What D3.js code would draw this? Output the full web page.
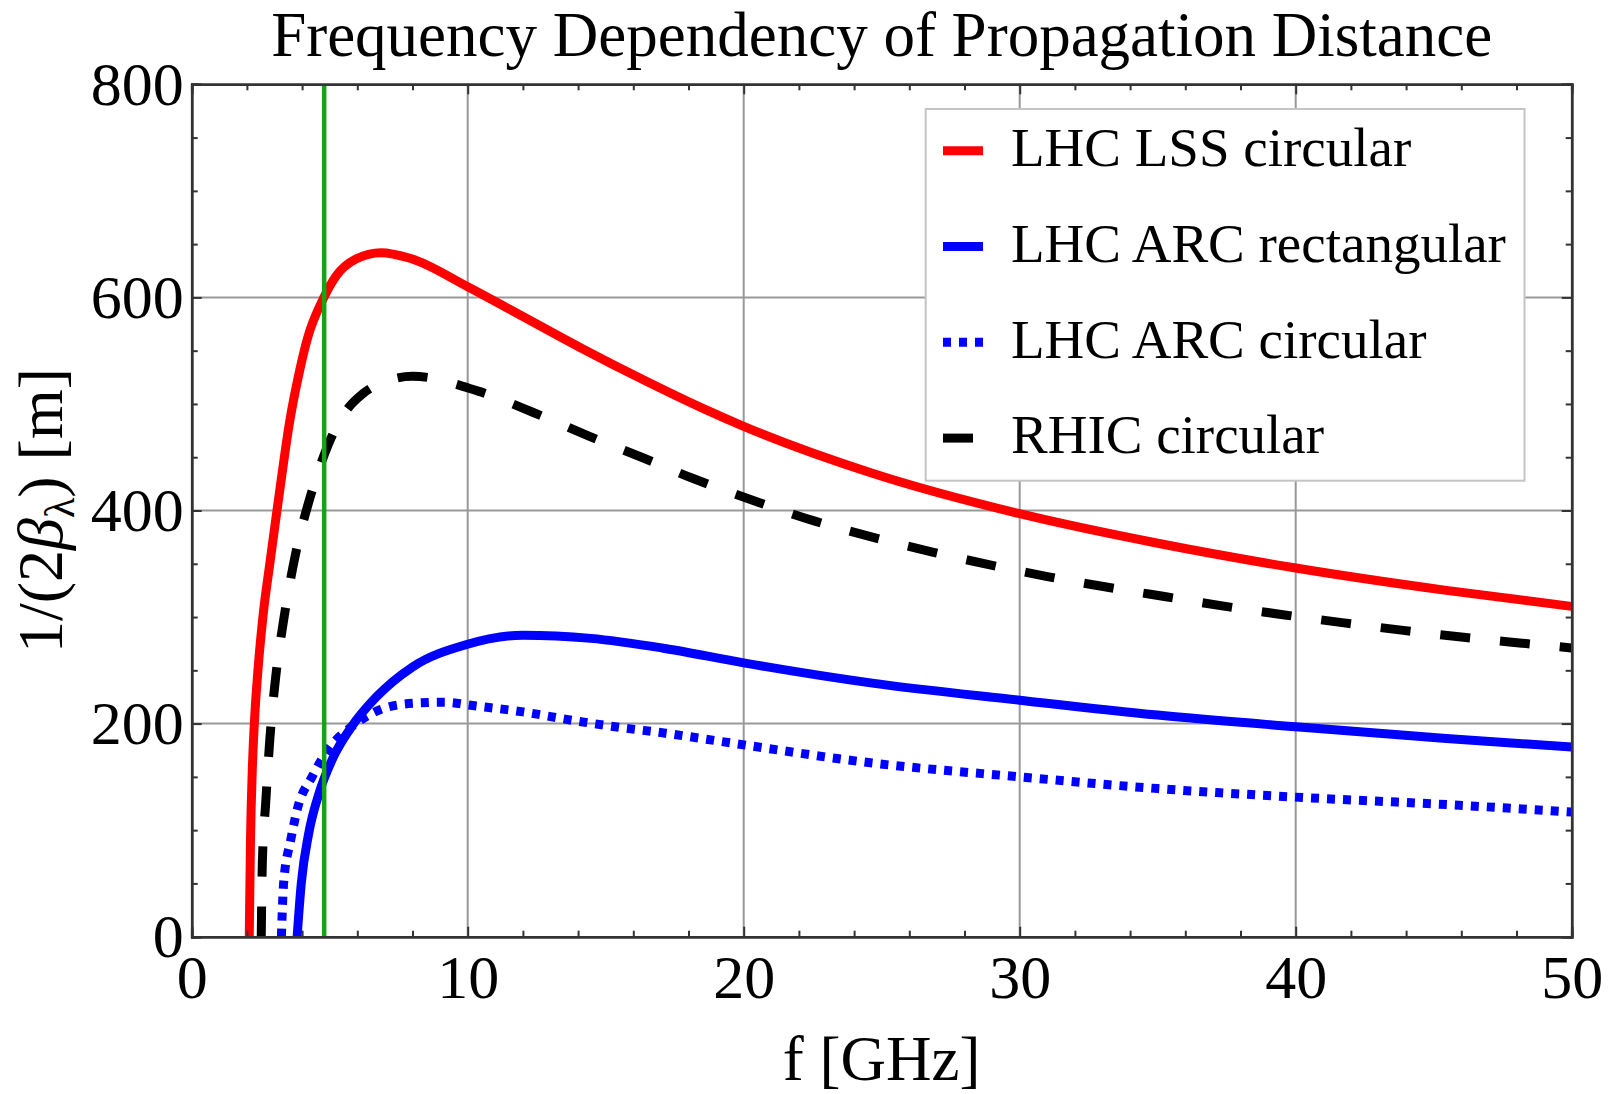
<!DOCTYPE html>
<html>
<head>
<meta charset="utf-8">
<script src="https://cdn.jsdelivr.net/npm/d3@7"></script>
<style>
  body { margin: 0; background: #fff; }
  text { font-family: "Liberation Serif", "Times New Roman", serif; fill: #000; }
</style>
</head>
<body>
<div id="chart"></div>
<script>
// values: f in GHz, 1/(2 beta) in m
const lssFreq = [2.085, 2.13, 2.2, 2.28, 2.4, 2.58, 2.84, 3.1, 3.27, 3.54, 3.9, 4.2, 4.77, 5.23, 5.95, 6.86, 7.88, 10, 11.65, 14.07, 16.49, 18.42, 20, 24.66, 30, 35.05, 40, 45.46, 50];
const lssDist = [0, 90, 160, 205, 250, 300, 352, 402, 434, 482, 530, 562, 599, 620, 636, 642, 637, 610, 587, 553, 521, 497, 479, 435, 397, 369, 346, 325, 310];

const arcRectFreq = [3.82, 3.97, 4.24, 4.62, 5.14, 5.79, 6.69, 7.99, 9.93, 12, 14.46, 17.04, 20, 24.66, 30, 35, 40, 45.46, 50];
const arcRectDist = [0, 50, 97, 135, 169, 197, 225, 253, 274, 283, 280, 271, 257, 238, 222, 208, 197, 186, 178];

const arcCircFreq = [3.25, 3.33, 3.59, 3.85, 4.36, 5.01, 5.79, 6.82, 7.99, 9.15, 10.31, 12, 13.81, 15.49, 17.17, 19.5, 24.66, 30, 35, 40, 45.46, 50];
const arcCircDist = [0, 50, 91, 122, 150, 178, 197, 213, 219, 220, 216.5, 211, 203, 196.5, 191, 182, 163, 150, 139, 131, 124, 117];

const rhicFreq = [2.52, 2.56, 2.68, 2.83, 3.04, 3.33, 3.77, 4.31, 4.95, 5.5, 6.22, 7.0, 8.0, 10.38, 12.38, 14.37, 16.39, 18.17, 20.5, 22.58, 24.66, 26.84, 28.92, 31, 33.18, 35.3, 37.45, 39.6, 41.75, 43.9, 46.08, 48.2, 50];
const rhicDist = [0, 70, 125, 185, 243, 297, 360, 414, 462, 490, 510, 521, 526, 512, 492, 470, 449, 430, 408, 390, 375, 361, 349, 338, 328, 319, 310, 302, 294.5, 287.5, 281, 275.5, 271];

const seriesNames = ["LHC LSS circular", "LHC ARC rectangular", "LHC ARC circular", "RHIC circular"];
const markerFreq = 4.8; // green vertical line

const xMajor = [0, 10, 20, 30, 40, 50];
const yMajor = [0, 200, 400, 600, 800];

// layout
const W = 1617, H = 1094;
const margin = { top: 84.3, right: 45.3, bottom: 157.3, left: 191.7 };
const width = W - margin.left - margin.right,
      height = H - margin.top - margin.bottom;

const svg = d3.select("#chart").append("svg")
    .attr("width", W)
    .attr("height", H)
    .style("background", "#fff");

const g = svg.append("g")
    .attr("transform", `translate(${margin.left},${margin.top})`);

const x = d3.scaleLinear().domain([0, 50]).range([0, width]);
const y = d3.scaleLinear().domain([0, 800]).range([height, 0]);

// grid lines
g.selectAll(".vgrid")
    .data(xMajor.slice(1, -1))
    .enter().append("line")
    .attr("x1", d => x(d)).attr("x2", d => x(d))
    .attr("y1", 0).attr("y2", height)
    .attr("stroke", "#999").attr("stroke-width", 2);

g.selectAll(".hgrid")
    .data(yMajor.slice(1, -1))
    .enter().append("line")
    .attr("y1", d => y(d)).attr("y2", d => y(d))
    .attr("x1", 0).attr("x2", width)
    .attr("stroke", "#999").attr("stroke-width", 2);

// curves
g.append("clipPath").attr("id", "plotclip")
  .append("rect").attr("width", width).attr("height", height);

const line = d3.line()
    .x(d => x(d[0]))
    .y(d => y(d[1]))
    .curve(d3.curveMonotoneX);

const series = [
    { name: seriesNames[0], pts: d3.zip(lssFreq, lssDist), color: "#ff0000", dash: null },
    { name: seriesNames[1], pts: d3.zip(arcRectFreq, arcRectDist), color: "#0000ff", dash: null },
    { name: seriesNames[2], pts: d3.zip(arcCircFreq, arcCircDist), color: "#0000ff", dash: "8,8" },
    { name: seriesNames[3], pts: d3.zip(rhicFreq, rhicDist), color: "#000000", dash: "30,30" }
];

const curves = g.append("g").attr("clip-path", "url(#plotclip)");

// draw in reverse so red ends up on top
series.slice().reverse().forEach(s => {
    curves.append("path")
        .datum(s.pts)
        .attr("d", line)
        .attr("fill", "none")
        .attr("stroke", s.color)
        .attr("stroke-width", 9)
        .attr("stroke-dasharray", s.dash);
});

// green marker
g.append("line")
    .attr("x1", x(markerFreq)).attr("x2", x(markerFreq))
    .attr("y1", 0).attr("y2", height)
    .attr("stroke", "#14a514")
    .attr("stroke-width", 4.5);

// legend
const legend = g.append("g")
    .attr("transform", `translate(${925.7 - margin.left},${109 - margin.top})`);

legend.append("rect")
    .attr("width", 598.8)
    .attr("height", 371.7)
    .attr("fill", "#fff")
    .attr("stroke", "#c4c4c4")
    .attr("stroke-width", 2);

series.forEach((s, i) => {
    const cy = 41.7 + i * 95.8;
    legend.append("line")
        .attr("x1", 17.3).attr("x2", 57.3)
        .attr("y1", cy).attr("y2", cy)
        .attr("stroke", s.color)
        .attr("stroke-width", 9)
        .attr("stroke-dasharray", s.dash);
    legend.append("text")
        .attr("x", 85.3)
        .attr("y", cy + 15.3)
        .attr("font-size", "55px")
        .text(s.name);
});

// frame with inward ticks
function frameAxis(axis, transform, major, minor, labels) {
    const a = g.append("g").attr("transform", transform);
    a.call(axis.tickValues(minor).tickSize(-6).tickFormat(""));
    const b = g.append("g").attr("transform", transform);
    b.call(axis.tickValues(major).tickSize(-10).tickFormat(labels ? d3.format("d") : ""));
    [a, b].forEach(sel => {
        sel.selectAll("line").attr("stroke", "#333").attr("stroke-width", 2);
        sel.select(".domain").attr("stroke", "#333").attr("stroke-width", 2.5);
        sel.selectAll("text")
            .attr("font-size", "62px")
            .attr("font-family", "Liberation Serif, Times New Roman, serif")
            .attr("fill", "#000");
    });
    return b;
}

const xMinor = d3.range(0, 51, 2).filter(v => v % 10 !== 0);
const yMinor = d3.range(0, 801, 50).filter(v => v % 200 !== 0);

frameAxis(d3.axisBottom(x).tickPadding(17), `translate(0,${height})`, xMajor, xMinor, true);
frameAxis(d3.axisTop(x), "translate(0,0)", xMajor, xMinor, false);
frameAxis(d3.axisLeft(y).tickPadding(8), "translate(0,0)", yMajor, yMinor, true);
frameAxis(d3.axisRight(y), `translate(${width},0)`, yMajor, yMinor, false);

// title and axis labels
svg.append("text")
    .attr("x", margin.left + width / 2)
    .attr("y", 56)
    .attr("text-anchor", "middle")
    .attr("font-size", "63px")
    .text("Frequency Dependency of Propagation Distance");

svg.append("text")
    .attr("x", margin.left + width / 2)
    .attr("y", 1080)
    .attr("text-anchor", "middle")
    .attr("font-size", "63px")
    .text("f [GHz]");

const yLabel = svg.append("text")
    .attr("transform", `translate(62,${margin.top + height / 2}) rotate(-90)`)
    .attr("text-anchor", "middle")
    .attr("font-size", "64px");
yLabel.append("tspan").text("1/(2");
yLabel.append("tspan").attr("font-style", "italic").text("β");
yLabel.append("tspan").attr("font-size", "42px").attr("dy", "12").text("λ");
yLabel.append("tspan").attr("dy", "-12").text(") [m]");
</script>
</body>
</html>
